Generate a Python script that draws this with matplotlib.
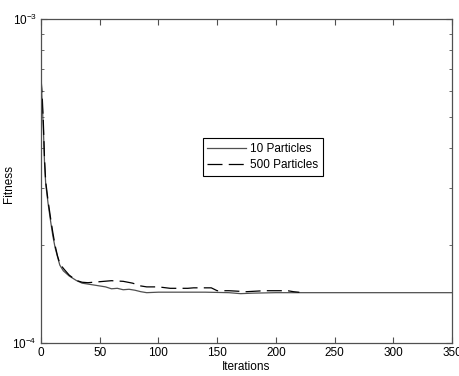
import matplotlib
matplotlib.use("Agg")
import matplotlib.pyplot as plt
from matplotlib.ticker import LogLocator, NullFormatter, FixedLocator

plt.rcParams['font.family'] = ['Liberation Sans', 'DejaVu Sans']

# 10 Particles (solid)
solid_x = [0, 1, 2, 3, 4, 6, 8, 10, 12, 14, 16, 19, 24, 30, 35, 40, 45, 50, 55, 60,
           65, 70, 75, 80, 85, 90, 100, 120, 140, 160, 170, 180, 200, 220, 350]
solid_y = [6.6, 5.5, 4.6, 3.6, 3.1, 2.7, 2.4, 2.15, 1.97, 1.85, 1.74, 1.67, 1.61, 1.56,
           1.53, 1.52, 1.51, 1.50, 1.49, 1.47, 1.475, 1.46, 1.465, 1.455, 1.44, 1.43,
           1.435, 1.435, 1.435, 1.43, 1.42, 1.425, 1.43, 1.43, 1.43]
# 500 Particles (dashed)
dash_x = [0, 1, 2, 3, 4, 6, 8, 10, 12, 14, 16, 19, 24, 30, 35, 40, 50, 60, 70, 78,
          85, 90, 100, 110, 125, 130, 145, 150, 160, 175, 190, 200, 210, 215, 220]
dash_y = [6.6, 5.8, 4.8, 3.7, 3.15, 2.75, 2.45, 2.2, 2.0, 1.86, 1.76, 1.70, 1.62, 1.56,
          1.54, 1.535, 1.546, 1.557, 1.55, 1.53, 1.50, 1.49, 1.49, 1.475, 1.475, 1.48,
          1.48, 1.45, 1.45, 1.44, 1.45, 1.45, 1.45, 1.44, 1.434]
scale = 1e-4
xticks = [0, 50, 100, 150, 200, 250, 300, 350]

fig = plt.figure(figsize=(4.6, 3.76), dpi=100)
ax = fig.add_axes([41/460, 33/376, 411/460, 324/376])

ax.plot(solid_x, [v*scale for v in solid_y], color='#505050', lw=0.9, label='10 Particles')
ax.plot(dash_x, [v*scale for v in dash_y], color='black', lw=0.9, dashes=(12, 5),
        label='500 Particles')

ax.set_yscale('log')
ax.set_xlim(0, 350)
ax.set_ylim(1e-4, 1e-3)
ax.xaxis.set_major_locator(FixedLocator(xticks))
ax.yaxis.set_minor_locator(LogLocator(base=10, subs=range(2, 10)))
ax.yaxis.set_minor_formatter(NullFormatter())

for s in ax.spines.values():
    s.set_color('#505050')
    s.set_linewidth(0.9)
ax.tick_params(which='both', direction='in', top=True, right=True, color='#505050',
               labelsize=8.5, pad=3)
ax.tick_params(which='major', length=4)
ax.tick_params(which='minor', length=2.5)

ax.set_xlabel('Iterations', fontsize=8.5, labelpad=1)
ax.set_ylabel('Fitness', fontsize=8.5)
ax.yaxis.set_label_coords(-0.063, 0.49)

leg = ax.legend(loc='upper left', bbox_to_anchor=(0.393, 0.632), borderaxespad=0,
                fontsize=8.5, fancybox=False, framealpha=1, edgecolor='black',
                handlelength=3.3, handletextpad=0.3, borderpad=0.4, labelspacing=0.35)
leg.get_frame().set_linewidth(0.8)

fig.savefig('out.png', dpi=100)
